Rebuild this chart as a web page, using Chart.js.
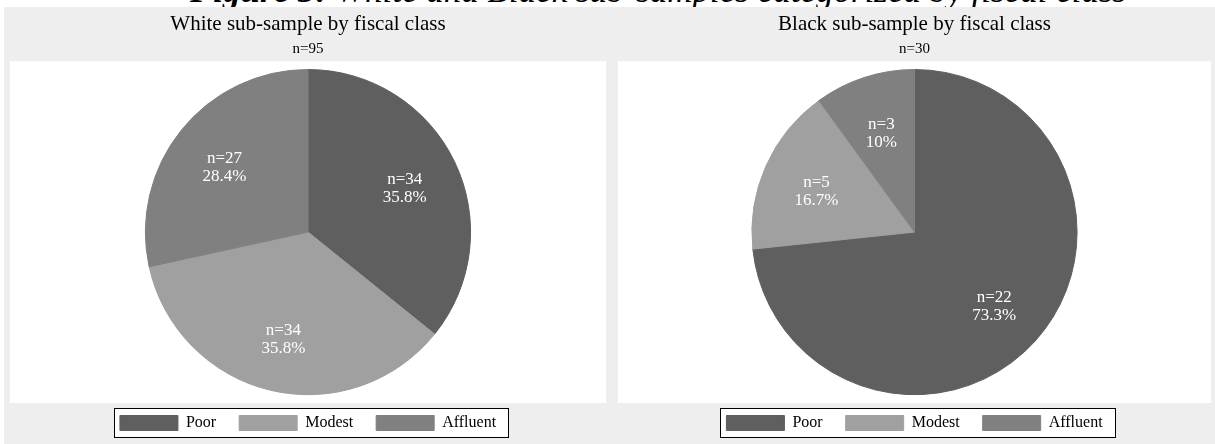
<!DOCTYPE html>
<html>
<head>
<meta charset="utf-8">
<script src="https://cdn.jsdelivr.net/npm/chart.js@4.4.1/dist/chart.umd.min.js"></script>
<style>
    body { margin: 0; background: #fff; width: 1215px; height: 444px; overflow: hidden; position: relative; }
    #caption {
        position: absolute; left: 190px; top: -27px; white-space: nowrap;
        font-family: "Liberation Serif", serif; font-style: italic; font-size: 35px; line-height: 35px;
    }
    #panel { position: absolute; left: 4px; top: 7px; width: 1211px; height: 437px; background: #eeeeee; }
    .pie { position: absolute; top: 0; height: 437px; }
    #pieWhite { left: 0; width: 608px; }
    #pieBlack { left: 608px; width: 605px; }
</style>
</head>
<body>
<div id="caption"><b>Figure 3:</b> White and Black sub-samples categorized by fiscal class</div>
<div id="panel">
    <div class="pie" id="pieWhite"><canvas id="chartWhite"></canvas></div>
    <div class="pie" id="pieBlack"><canvas id="chartBlack"></canvas></div>
</div>

<script>
const categories = ["Poor", "Modest", "Affluent"];
const whiteCounts = [34, 34, 27];
const blackCounts = [22, 5, 3];
const sliceColors = ["#5f5f5f", "#a0a0a0", "#808080"];

const serif = "'Liberation Serif', 'Times New Roman', serif";

function sum(arr) {
    return arr.reduce((a, b) => a + b, 0);
}

function pct(v, total) {
    return parseFloat((v / total * 100).toFixed(1)) + "%";
}

// grey background, white plot region and the framed legend
const panelBackground = {
    id: "panelBackground",
    beforeDraw(chart) {
        const ctx = chart.ctx;
        const area = chart.chartArea;
        ctx.save();
        ctx.fillStyle = "#ffffff";
        ctx.fillRect(6, area.top - 11, chart.width - 12, area.bottom - area.top + 22);

        const boxes = chart.legend.legendHitBoxes;
        if (boxes && boxes.length) {
            const first = boxes[0];
            const last = boxes[boxes.length - 1];
            const x0 = Math.round(first.left - 6) + 0.5;
            const x1 = Math.round(last.left + last.width + 12) + 0.5;
            const y0 = Math.round(first.top - 7) + 0.5;
            const y1 = Math.round(first.top + first.height + 6) + 0.5;
            ctx.fillRect(x0, y0, x1 - x0, y1 - y0);
            ctx.strokeStyle = "#000";
            ctx.lineWidth = 1;
            ctx.strokeRect(x0, y0, x1 - x0, y1 - y0);
        }
        ctx.restore();
    }
};

// "n=.. / ..%" inside each slice
const sliceLabels = {
    id: "sliceLabels",
    afterDatasetsDraw(chart) {
        const ctx = chart.ctx;
        const data = chart.data.datasets[0].data;
        const total = sum(data);
        ctx.save();
        ctx.fillStyle = "#ffffff";
        ctx.font = "17px " + serif;
        ctx.textAlign = "center";
        ctx.textBaseline = "middle";
        chart.getDatasetMeta(0).data.forEach((arc, i) => {
            const p = arc.getProps(["x", "y", "startAngle", "endAngle", "outerRadius"], true);
            const mid = (p.startAngle + p.endAngle) / 2;
            const r = p.outerRadius * 0.66;
            const x = p.x + Math.cos(mid) * r;
            const y = p.y + Math.sin(mid) * r;
            ctx.fillText("n=" + data[i], x, y - 6);
            ctx.fillText(pct(data[i], total), x, y + 12);
        });
        ctx.restore();
    }
};

function makePie(canvasId, title, counts) {
    return new Chart(document.getElementById(canvasId), {
        type: "pie",
        data: {
            labels: categories,
            datasets: [{
                data: counts,
                backgroundColor: sliceColors,
                borderColor: sliceColors,
                borderWidth: 1
            }]
        },
        options: {
            responsive: true,
            maintainAspectRatio: false,
            animation: false,
            events: [],
            radius: "102%",
            layout: { padding: { top: 0, bottom: 3, left: 0, right: 0 } },
            plugins: {
                title: {
                    display: true,
                    text: title,
                    color: "#000",
                    font: { family: serif, size: 21, weight: "normal" },
                    padding: { top: 5, bottom: 2 }
                },
                subtitle: {
                    display: true,
                    text: "n=" + sum(counts),
                    color: "#000",
                    font: { family: serif, size: 15, weight: "normal" },
                    padding: { top: 1, bottom: 14 }
                },
                legend: {
                    position: "bottom",
                    labels: {
                        color: "#000",
                        font: { family: serif, size: 16 },
                        boxWidth: 58,
                        boxHeight: 15,
                        padding: 23
                    }
                },
                tooltip: { enabled: false }
            }
        },
        plugins: [panelBackground, sliceLabels]
    });
}

makePie("chartWhite", "White sub-sample by fiscal class", whiteCounts);
makePie("chartBlack", "Black sub-sample by fiscal class", blackCounts);
</script>
</body>
</html>
